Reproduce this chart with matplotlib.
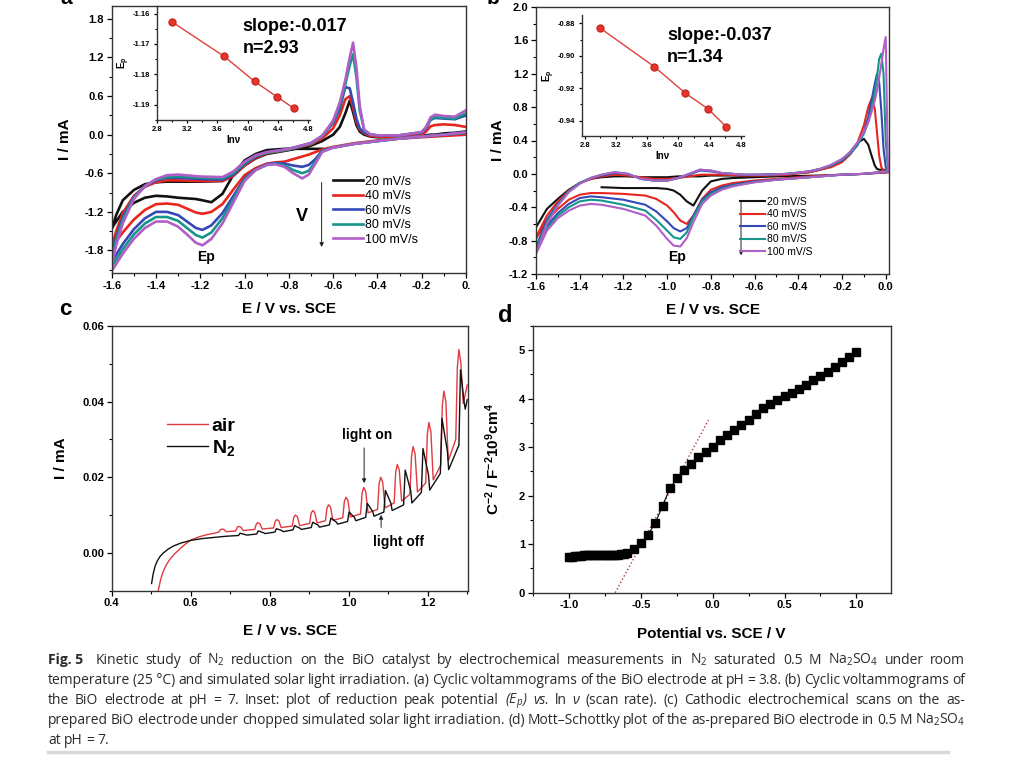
import matplotlib
matplotlib.use("Agg")
import numpy as np
import matplotlib.pyplot as plt
from matplotlib.ticker import MultipleLocator, FormatStrFormatter, FuncFormatter
from matplotlib.lines import Line2D

nan = np.nan

# ---------- (a) CV at pH 3.8 ----------
rates_a = ["20 mV/s", "40 mV/s", "60 mV/s", "80 mV/s", "100 mV/s"]
# cathodic sweep (0 -> -1.6 V)
a_dn_x = [0.0, -0.1, -0.2, -0.3, -0.4, -0.5, -0.6, -0.65, -0.68, -0.71,
          -0.74, -0.78, -0.82, -0.86, -0.9, -0.95, -1.0, -1.05, -1.1, -1.15,
          -1.19, -1.22, -1.26, -1.3, -1.35, -1.4, -1.45, -1.5, -1.55, -1.6]
a_dn_20 = [nan, nan, nan, nan, nan, nan, nan, -0.22, -0.22, -0.22,
           -0.22, -0.22, -0.22, -0.23, -0.24, -0.3, -0.4, -0.62, -0.92, -1.05,
           -1.02, -1.0, -0.99, -0.98, -0.96, -0.95, -0.98, -1.06, -1.2, -1.45]
a_dn_40 = [0.0, -0.02, -0.04, -0.06, -0.09, -0.13, -0.19, -0.23, -0.27, -0.31,
           -0.34, -0.38, -0.42, -0.43, -0.45, -0.52, -0.63, -0.85, -1.08, -1.2,
           -1.23, -1.21, -1.15, -1.09, -1.07, -1.08, -1.17, -1.32, -1.52, -1.75]
a_dn_60 = [0.03, 0.0, -0.03, -0.06, -0.1, -0.14, -0.2, -0.25, -0.38, -0.47,
           -0.5, -0.48, -0.45, -0.44, -0.46, -0.54, -0.68, -0.95, -1.22, -1.41,
           -1.48, -1.45, -1.35, -1.25, -1.2, -1.2, -1.3, -1.47, -1.7, -1.98]
a_dn_80 = [0.03, 0.0, -0.03, -0.06, -0.1, -0.14, -0.2, -0.26, -0.42, -0.56,
           -0.6, -0.55, -0.48, -0.45, -0.47, -0.55, -0.7, -1.0, -1.3, -1.52,
           -1.6, -1.56, -1.45, -1.34, -1.28, -1.28, -1.38, -1.55, -1.78, -2.05]
a_dn_100 = [0.04, 0.0, -0.03, -0.06, -0.1, -0.14, -0.2, -0.27, -0.45, -0.62,
            -0.68, -0.6, -0.5, -0.46, -0.47, -0.55, -0.72, -1.05, -1.38, -1.62,
            -1.72, -1.68, -1.55, -1.43, -1.35, -1.35, -1.45, -1.62, -1.85, -2.12]
# anodic sweep (-1.6 -> 0 V)
a_up_x = [-1.6, -1.58, -1.55, -1.5, -1.45, -1.4, -1.35, -1.3, -1.2, -1.1,
          -1.05, -1.0, -0.95, -0.9, -0.8, -0.7, -0.65, -0.6, -0.57, -0.545,
          -0.525, -0.51, -0.495, -0.48, -0.46, -0.43, -0.4, -0.3, -0.2, -0.18,
          -0.16, -0.14, -0.1, -0.05, 0.0]
a_up_20 = [-1.47, -1.25, -1.02, -0.86, -0.77, -0.74, -0.73, -0.73, -0.73, -0.72,
           -0.63, -0.48, -0.37, -0.3, -0.24, -0.17, -0.1, 0.0, 0.12, 0.33,
           0.53, 0.35, 0.15, 0.05, 0.0, -0.03, -0.04, -0.04, -0.02, -0.01,
           0.0, 0.0, 0.02, 0.03, 0.05]
a_up_40 = [-1.75, -1.5, -1.22, -0.95, -0.81, -0.74, -0.71, -0.71, -0.72, -0.72,
           -0.64, -0.48, -0.36, -0.29, -0.23, -0.15, -0.06, 0.1, 0.3, 0.55,
           0.6, 0.42, 0.2, 0.08, 0.02, -0.02, -0.03, -0.03, 0.0, 0.05,
           0.13, 0.15, 0.16, 0.15, 0.12]
a_up_60 = [-1.9, -1.6, -1.28, -0.97, -0.8, -0.71, -0.67, -0.67, -0.69, -0.7,
           -0.62, -0.46, -0.34, -0.28, -0.22, -0.13, -0.02, 0.18, 0.4, 0.74,
           0.72, 0.5, 0.25, 0.1, 0.03, 0.0, -0.01, -0.01, 0.03, 0.1,
           0.23, 0.26, 0.25, 0.24, 0.3]
a_up_80 = [-1.97, -1.65, -1.32, -0.98, -0.8, -0.7, -0.66, -0.65, -0.67, -0.68,
           -0.6, -0.44, -0.33, -0.28, -0.23, -0.14, -0.03, 0.2, 0.45, 0.78,
           1.08, 1.25, 0.9, 0.38, 0.07, 0.0, -0.01, -0.01, 0.04, 0.12,
           0.24, 0.27, 0.26, 0.25, 0.33]
a_up_100 = [-2.05, -1.72, -1.38, -1.0, -0.8, -0.69, -0.63, -0.62, -0.65, -0.66,
            -0.57, -0.42, -0.32, -0.27, -0.22, -0.13, -0.02, 0.22, 0.5, 0.85,
            1.2, 1.43, 1.05, 0.45, 0.08, 0.0, -0.01, -0.01, 0.04, 0.12,
            0.27, 0.31, 0.29, 0.28, 0.38]

# ---------- (b) CV at pH 7 ----------
rates_b = ["20 mV/S", "40 mV/S", "60 mV/S", "80 mV/S", "100 mV/S"]
b_dn_x = [0.01, -0.1, -0.2, -0.3, -0.4, -0.5, -0.6, -0.7, -0.75, -0.8,
          -0.84, -0.88, -0.91, -0.94, -0.97, -1.0, -1.05, -1.1, -1.2, -1.3,
          -1.35, -1.4, -1.45, -1.5, -1.55, -1.6]
b_dn_20 = [0.02, 0.0, -0.01, -0.02, -0.025, -0.03, -0.04, -0.05, -0.06, -0.09,
           -0.2, -0.38, -0.33, -0.25, -0.2, -0.18, -0.17, -0.17, -0.17, -0.16,
           nan, nan, nan, nan, nan, nan]
b_dn_40 = [0.02, 0.0, -0.01, -0.02, -0.04, -0.06, -0.08, -0.11, -0.14, -0.19,
           -0.3, -0.5, -0.6, -0.56, -0.46, -0.38, -0.3, -0.26, -0.24, -0.23,
           -0.23, -0.25, -0.31, -0.42, -0.56, -0.78]
b_dn_60 = [0.03, 0.0, -0.01, -0.03, -0.05, -0.07, -0.09, -0.13, -0.16, -0.22,
           -0.31, -0.5, -0.65, -0.69, -0.65, -0.57, -0.45, -0.37, -0.31, -0.28,
           -0.27, -0.29, -0.36, -0.47, -0.62, -0.88]
b_dn_80 = [0.03, 0.0, -0.01, -0.03, -0.05, -0.07, -0.1, -0.14, -0.18, -0.24,
           -0.33, -0.52, -0.7, -0.78, -0.76, -0.68, -0.55, -0.44, -0.37, -0.32,
           -0.31, -0.33, -0.4, -0.5, -0.65, -0.92]
b_dn_100 = [0.03, 0.0, -0.01, -0.03, -0.05, -0.07, -0.1, -0.15, -0.19, -0.26,
            -0.36, -0.58, -0.77, -0.87, -0.86, -0.78, -0.62, -0.5, -0.42, -0.37,
            -0.36, -0.38, -0.44, -0.53, -0.68, -0.96]
b_up_x = [-1.6, -1.55, -1.5, -1.45, -1.4, -1.35, -1.3, -1.24, -1.18, -1.12,
          -1.06, -1.0, -0.95, -0.9, -0.85, -0.8, -0.75, -0.65, -0.55, -0.45,
          -0.35, -0.3, -0.25, -0.2, -0.16, -0.13, -0.1, -0.08, -0.065, -0.05,
          -0.04, -0.03, -0.02, -0.01, 0.0, 0.01]
b_up_20 = [-0.64, -0.42, -0.3, -0.19, -0.11, -0.06, -0.04, -0.03, -0.03, -0.04,
           -0.04, -0.04, -0.03, -0.03, -0.03, -0.02, -0.02, -0.02, -0.01, 0.0,
           0.02, 0.05, 0.09, 0.16, 0.27, 0.37, 0.42, 0.35, 0.22, 0.1,
           0.06, 0.05, 0.05, 0.05, 0.04, 0.03]
b_up_40 = [-0.76, -0.5, -0.33, -0.2, -0.11, -0.06, -0.03, -0.01, -0.02, -0.04,
           -0.06, -0.06, -0.05, -0.03, -0.01, -0.01, -0.01, -0.02, -0.02, -0.01,
           0.02, 0.05, 0.08, 0.14, 0.24, 0.37, 0.58, 0.8, 0.9, 0.78,
           0.5, 0.22, 0.08, 0.04, 0.03, 0.03]
b_up_60 = [-0.88, -0.55, -0.36, -0.21, -0.11, -0.05, -0.02, 0.01, 0.0, -0.06,
           -0.08, -0.08, -0.05, -0.01, 0.04, 0.03, 0.01, -0.01, -0.01, 0.0,
           0.03, 0.06, 0.1, 0.16, 0.25, 0.34, 0.5, 0.68, 0.88, 1.08,
           1.2, 1.1, 0.75, 0.3, 0.08, 0.03]
b_up_80 = [-0.92, -0.58, -0.37, -0.21, -0.11, -0.05, -0.01, 0.02, 0.0, -0.06,
           -0.08, -0.08, -0.05, 0.0, 0.05, 0.04, 0.01, -0.01, -0.01, 0.0,
           0.03, 0.06, 0.1, 0.17, 0.25, 0.35, 0.48, 0.62, 0.78, 0.98,
           1.15, 1.38, 1.44, 1.2, 0.4, 0.05]
b_up_100 = [-0.96, -0.6, -0.38, -0.22, -0.12, -0.05, -0.01, 0.02, 0.0, -0.06,
            -0.08, -0.08, -0.05, 0.0, 0.05, 0.04, 0.01, -0.01, -0.01, 0.0,
            0.03, 0.06, 0.11, 0.18, 0.27, 0.37, 0.5, 0.62, 0.74, 0.88,
            1.0, 1.15, 1.32, 1.5, 1.64, 0.05]

# insets: Ep vs ln(v)
ln_v = [3.0, 3.69, 4.09, 4.38, 4.61]
ep_a = [-1.1627, -1.1741, -1.1823, -1.1873, -1.1912]
ep_b = [-0.8831, -0.9067, -0.9231, -0.9327, -0.9436]

# ---------- (c) chopped light scans ----------
c_air_x = [0.518, 0.524, 0.530, 0.538, 0.548, 0.558, 0.570, 0.585, 0.600, 0.620, 0.640, 0.660,
           0.671, 0.675, 0.679, 0.684, 0.690,
           0.714, 0.718, 0.722, 0.727, 0.733,
           0.762, 0.766, 0.770, 0.775, 0.781,
           0.810, 0.814, 0.818, 0.823, 0.829,
           0.857, 0.861, 0.865, 0.870, 0.876,
           0.901, 0.905, 0.909, 0.914, 0.920,
           0.941, 0.945, 0.949, 0.954, 0.960,
           0.985, 0.989, 0.993, 0.998, 1.004,
           1.030, 1.034, 1.038, 1.043, 1.049,
           1.073, 1.077, 1.081, 1.086, 1.092,
           1.115, 1.119, 1.123, 1.128, 1.134,
           1.155, 1.159, 1.163, 1.168, 1.174,
           1.195, 1.199, 1.203, 1.208, 1.214,
           1.233, 1.237, 1.241, 1.246, 1.252,
           1.271, 1.275, 1.279, 1.284, 1.290,
           1.300]
c_air_y = [-0.0099, -0.0070, -0.0050, -0.0032, -0.0016, -0.0004, 0.0008, 0.0022, 0.0034, 0.0042, 0.0048, 0.0052,
           0.0055, 0.0061, 0.0063, 0.0062, 0.0056,
           0.0058, 0.0068, 0.0070, 0.0068, 0.0059,
           0.0062, 0.0076, 0.0080, 0.0077, 0.0063,
           0.0066, 0.0084, 0.0088, 0.0085, 0.0067,
           0.0071, 0.0094, 0.0100, 0.0096, 0.0072,
           0.0078, 0.0105, 0.0112, 0.0107, 0.0079,
           0.0085, 0.0119, 0.0127, 0.0121, 0.0086,
           0.0093, 0.0136, 0.0147, 0.0139, 0.0095,
           0.0103, 0.0159, 0.0173, 0.0163, 0.0106,
           0.0115, 0.0183, 0.0200, 0.0187, 0.0119,
           0.0132, 0.0214, 0.0234, 0.0219, 0.0137,
           0.0155, 0.0256, 0.0281, 0.0262, 0.0161,
           0.0185, 0.0313, 0.0345, 0.0321, 0.0193,
           0.0232, 0.0389, 0.0428, 0.0399, 0.0243,
           0.0300, 0.0490, 0.0538, 0.0502, 0.0395,
           0.0444]
c_n2_x = [0.501, 0.505, 0.510, 0.515, 0.522, 0.531, 0.543, 0.556, 0.575, 0.600, 0.630, 0.660, 0.690,
          0.721, 0.725, 0.739, 0.742,
          0.767, 0.771, 0.785, 0.788,
          0.813, 0.817, 0.831, 0.834,
          0.859, 0.863, 0.877, 0.880,
          0.905, 0.909, 0.923, 0.926,
          0.951, 0.955, 0.969, 0.972,
          0.997, 1.001, 1.015, 1.018,
          1.043, 1.047, 1.061, 1.064,
          1.089, 1.093, 1.107, 1.110,
          1.139, 1.143, 1.157, 1.160,
          1.184, 1.188, 1.202, 1.205,
          1.232, 1.236, 1.250, 1.253,
          1.279, 1.283, 1.292, 1.295,
          1.300]
c_n2_y = [-0.0081, -0.0055, -0.0035, -0.0022, -0.0010, 0.0, 0.0010, 0.0018, 0.0026, 0.0033, 0.0038, 0.0041, 0.0044,
          0.0046, 0.0052, 0.0048, 0.0047,
          0.0050, 0.0058, 0.0053, 0.0051,
          0.0055, 0.0064, 0.0059, 0.0056,
          0.0061, 0.0072, 0.0065, 0.0062,
          0.0067, 0.0081, 0.0073, 0.0068,
          0.0074, 0.0092, 0.0081, 0.0076,
          0.0083, 0.0108, 0.0093, 0.0085,
          0.0094, 0.0131, 0.0109, 0.0097,
          0.0108, 0.0165, 0.0131, 0.0112,
          0.0127, 0.0219, 0.0164, 0.0132,
          0.0160, 0.0276, 0.0206, 0.0166,
          0.0210, 0.0356, 0.0268, 0.0220,
          0.0285, 0.0484, 0.0400, 0.0380,
          0.0405]

# ---------- (d) Mott-Schottky ----------
d_x = [-1.0, -0.98, -0.96, -0.94, -0.92, -0.9, -0.88, -0.86, -0.84, -0.82,
       -0.8, -0.78, -0.76, -0.74, -0.72, -0.7, -0.68, -0.66, -0.64, -0.62,
       -0.6, -0.55, -0.5, -0.45, -0.4, -0.35, -0.3, -0.25, -0.2, -0.15,
       -0.1, -0.05, 0.0, 0.05, 0.1, 0.15, 0.2, 0.25, 0.3, 0.35,
       0.4, 0.45, 0.5, 0.55, 0.6, 0.65, 0.7, 0.75, 0.8, 0.85,
       0.9, 0.95, 1.0]
d_y = [0.73, 0.74, 0.75, 0.76, 0.765, 0.77, 0.775, 0.78, 0.78, 0.78,
       0.78, 0.78, 0.78, 0.775, 0.77, 0.77, 0.775, 0.78, 0.79, 0.8,
       0.82, 0.91, 1.02, 1.2, 1.44, 1.79, 2.15, 2.36, 2.53, 2.66,
       2.8, 2.9, 3.01, 3.15, 3.25, 3.35, 3.45, 3.57, 3.68, 3.8,
       3.89, 3.97, 4.05, 4.12, 4.21, 4.29, 4.38, 4.46, 4.55, 4.66,
       4.76, 4.86, 4.97]
d_fit_x = [-0.68, -0.03]
d_fit_y = [0.0, 3.56]

colors = ["#111111", "#e8261e", "#3548b5", "#16958a", "#b15fc6"]

plt.rcParams["font.family"] = ["Liberation Sans", "DejaVu Sans"]
plt.rcParams["font.weight"] = "bold"
plt.rcParams["axes.labelweight"] = "bold"
plt.rcParams["axes.unicode_minus"] = False
plt.rcParams["mathtext.default"] = "regular"

W, H = 1024, 768
fig = plt.figure(figsize=(W / 100, H / 100), dpi=100)


def box(l, t, r, b):
    return [l / W, 1 - b / H, (r - l) / W, (b - t) / H]


def style(ax, xmaj, xmin, ymaj, ymin, xfmt, yfmt, size=8, inset=False):
    ax.xaxis.set_major_locator(MultipleLocator(xmaj))
    ax.xaxis.set_minor_locator(MultipleLocator(xmin))
    ax.yaxis.set_major_locator(MultipleLocator(ymaj))
    ax.yaxis.set_minor_locator(MultipleLocator(ymin))
    ax.xaxis.set_major_formatter(xfmt if callable(xfmt) else FormatStrFormatter(xfmt))
    ax.yaxis.set_major_formatter(FormatStrFormatter(yfmt))
    ax.tick_params(which="major", direction="out", length=3.5 if not inset else 2.5,
                   width=0.9, labelsize=size, pad=2)
    ax.tick_params(which="minor", direction="out", length=2 if not inset else 1.5, width=0.8)
    for s in ax.spines.values():
        s.set_linewidth(1.0)
        s.set_color("#333333")


# ---------------- panel a ----------------
ax_a = fig.add_axes(box(111.7, 6, 466, 273))
a_dn = [a_dn_20, a_dn_40, a_dn_60, a_dn_80, a_dn_100]
a_up = [a_up_20, a_up_40, a_up_60, a_up_80, a_up_100]
for yd, yu, c, lab in zip(a_dn, a_up, colors, rates_a):
    ax_a.plot(a_dn_x + a_up_x, yd + yu, color=c, lw=1.9, label=lab)
ax_a.set_xlim(-1.6, 0.0)
ax_a.set_ylim(-2.15, 2.0)
style(ax_a, 0.2, 0.1, 0.6, 0.3,
      FuncFormatter(lambda v, p: "0." if abs(v) < 1e-9 else "%.1f" % v), "%.1f")
ax_a.set_xlabel("E / V vs. SCE", fontsize=11, labelpad=8)
ax_a.set_ylabel("I / mA", fontsize=11, labelpad=9)
ax_a.legend(loc="upper left", bbox_to_anchor=(0.625, 0.365), frameon=False,
            handlelength=2.4, handletextpad=0.15, labelspacing=0.2,
            borderpad=0, borderaxespad=0, prop={"size": 9, "weight": "normal"})
ax_a.annotate("", xy=(-0.652, -1.79), xytext=(-0.652, -0.7),
              arrowprops=dict(arrowstyle="-|>", lw=0.7, color="#222222", mutation_scale=6))
ax_a.text(-0.742, -1.27, "V", fontsize=13, ha="center", va="center")
ax_a.text(-1.175, -1.9, "Ep", fontsize=10, ha="center", va="center")
ax_a.text(-1.008, 1.676, "slope:-0.017", fontsize=13, ha="left", va="center")
ax_a.text(-1.008, 1.334, "n=2.93", fontsize=13, ha="left", va="center")

ins_a = fig.add_axes(box(156.7, 6, 310, 120))
ins_a.patch.set_alpha(0)
ins_a.plot(ln_v, ep_a, "-o", color="#e0403a", lw=1.0, ms=5,
           mfc="#e8352b", mec="#c42a22")
ins_a.set_xlim(2.8, 4.82)
ins_a.set_ylim(-1.195, -1.1575)
style(ins_a, 0.4, 0.2, 0.01, 0.005, "%.1f", "%.2f", size=5.5, inset=True)
ins_a.spines["top"].set_visible(False)
ins_a.spines["right"].set_visible(False)
ins_a.set_xlabel("lnν", fontsize=7, labelpad=1)
ins_a.set_ylabel("E$_p$", fontsize=7, labelpad=1)

# ---------------- panel b ----------------
ax_b = fig.add_axes(box(536, 7, 889, 274))
b_dn = [b_dn_20, b_dn_40, b_dn_60, b_dn_80, b_dn_100]
b_up = [b_up_20, b_up_40, b_up_60, b_up_80, b_up_100]
for yd, yu, c, lab in zip(b_dn, b_up, colors, rates_b):
    ax_b.plot(b_dn_x + b_up_x, yd + yu, color=c, lw=1.5, label=lab)
ax_b.set_xlim(-1.6, 0.015)
ax_b.set_ylim(-1.2, 2.0)
style(ax_b, 0.2, 0.1, 0.4, 0.2, "%.1f", "%.1f")
ax_b.set_xlabel("E / V vs. SCE", fontsize=11, labelpad=8)
ax_b.set_ylabel("I / mA", fontsize=11, labelpad=3)
ax_b.legend(loc="upper left", bbox_to_anchor=(0.578, 0.29), frameon=False,
            handlelength=2.4, handletextpad=0.15, labelspacing=0.25,
            borderpad=0, borderaxespad=0, prop={"size": 7.5, "weight": "normal"})
ax_b.annotate("", xy=(-0.662, -1.01), xytext=(-0.662, -0.29),
              arrowprops=dict(arrowstyle="-|>", lw=0.7, color="#222222", mutation_scale=6))
ax_b.text(-0.955, -1.0, "Ep", fontsize=10, ha="center", va="center")
ax_b.text(-1.0, 1.664, "slope:-0.037", fontsize=13, ha="left", va="center")
ax_b.text(-1.0, 1.389, "n=1.34", fontsize=13, ha="left", va="center")

ins_b = fig.add_axes(box(581.7, 15, 744, 136))
ins_b.patch.set_alpha(0)
ins_b.plot(ln_v, ep_b, "-o", color="#e0403a", lw=1.0, ms=5,
           mfc="#e8352b", mec="#c42a22")
ins_b.set_xlim(2.76, 4.84)
ins_b.set_ylim(-0.9494, -0.8749)
style(ins_b, 0.4, 0.2, 0.02, 0.01, "%.1f", "%.2f", size=5.5, inset=True)
ins_b.spines["top"].set_visible(False)
ins_b.spines["right"].set_visible(False)
ins_b.set_xlabel("lnν", fontsize=7, labelpad=1)
ins_b.set_ylabel("E$_p$", fontsize=7, labelpad=1)

# ---------------- panel c ----------------
ax_c = fig.add_axes(box(111.7, 326, 468, 590.7))
ax_c.plot(c_air_x, c_air_y, color="#e23a3f", lw=1.0, label="air")
ax_c.plot(c_n2_x, c_n2_y, color="#111111", lw=1.0, label="N$_2$")
ax_c.set_xlim(0.4, 1.302)
ax_c.set_ylim(-0.01, 0.06)
style(ax_c, 0.2, 0.1, 0.02, 0.01, "%.1f", "%.2f")
ax_c.set_xlabel("E / V vs. SCE", fontsize=11, labelpad=11)
ax_c.set_ylabel("I / mA", fontsize=11, labelpad=10)
ax_c.legend(loc="upper left", bbox_to_anchor=(0.155, 0.655), frameon=False,
            handlelength=2.1, handletextpad=0.2, labelspacing=0.15,
            borderpad=0, borderaxespad=0, prop={"size": 14, "weight": "bold"})
ax_c.text(1.046, 0.0312, "light on", fontsize=10, ha="center", va="center")
ax_c.annotate("", xy=(1.039, 0.0177), xytext=(1.039, 0.0285),
              arrowprops=dict(arrowstyle="-|>", lw=0.7, color="#222222", mutation_scale=6))
ax_c.text(1.125, 0.0028, "light off", fontsize=10, ha="center", va="center")
ax_c.annotate("", xy=(1.082, 0.0108), xytext=(1.082, 0.006),
              arrowprops=dict(arrowstyle="-|>", lw=0.7, color="#222222", mutation_scale=6))

# ---------------- panel d ----------------
ax_d = fig.add_axes(box(532.7, 326, 890.7, 592.7))
ax_d.plot(d_fit_x, d_fit_y, ":", color="#b03a3a", lw=1.0)
ax_d.plot(d_x, d_y, "-s", color="black", lw=0.8, ms=5.3)
ax_d.set_xlim(-1.255, 1.24)
ax_d.set_ylim(0, 5.5)
style(ax_d, 0.5, 0.25, 1, 0.5, "%.1f", "%d")
ax_d.set_xlabel("Potential vs. SCE / V", fontsize=11, labelpad=12)
ax_d.set_ylabel("C$^{-2}$ / F$^{-2}$10$^{9}$cm$^{4}$", fontsize=11, labelpad=12)

# panel letters (a and b are cropped at the top edge in the source)
fig.text(66 / W, 1 + 1 / H, "a", fontsize=15, ha="center", va="center")
fig.text(493 / W, 1 + 1 / H, "b", fontsize=15, ha="center", va="center")
fig.text(65 / W, 1 - 310 / H, "c", fontsize=16, ha="center", va="center")
fig.text(505 / W, 1 - 315 / H, "d", fontsize=17, ha="center", va="center")

# ---------------- caption ----------------
cap_lines = [
    "_b_Fig.~5 Kinetic study of N$_2$ reduction on the BiO catalyst by electrochemical measurements in N$_2$ saturated 0.5 M Na$_2$SO$_4$ under room",
    "temperature (25\u00a0°C) and simulated solar light irradiation. (a) Cyclic voltammograms of the BiO electrode at pH = 3.8. (b) Cyclic voltammograms of",
    "the BiO electrode at pH = 7. Inset: plot of reduction peak potential _i_($E_p$) _i_vs. ln _i_ν (scan rate). (c) Cathodic electrochemical scans on the as-",
    "prepared BiO electrode under chopped simulated solar light irradiation. (d) Mott–Schottky plot of the as-prepared BiO electrode in 0.5 M Na$_2$SO$_4$",
    "at pH = 7.",
]
cap_base = [664, 684, 704, 724, 744]
cap_x0, cap_x1 = 48, 965
cap_family = ["Liberation Sans Narrow", "Open Sans", "DejaVu Sans"]
renderer = fig.canvas.get_renderer()


def make_line(line, yb, fs):
    objs = []
    for tok in line.split(" "):
        kw = dict(fontsize=fs, family=cap_family, color="#2b2b2b",
                  ha="left", va="baseline", weight="normal", style="normal")
        if tok.startswith("_i_"):
            tok = tok[3:]
            kw["style"] = "italic"
        if tok.startswith("_b_"):
            tok = tok[3:].replace("~", " ")
            kw["weight"] = "bold"
        objs.append(fig.text(0, 1 - yb / H, tok, **kw))
    widths = [o.get_window_extent(renderer=renderer).width for o in objs]
    return objs, widths


for fs in [10.5, 10, 9.5, 9, 8.5]:
    built = [make_line(l, y, fs) for l, y in zip(cap_lines, cap_base)]
    ok = True
    for objs, widths in built[:-1]:
        if (cap_x1 - cap_x0 - sum(widths) - 6) / (len(objs) - 1) < 2.0:
            ok = False
    if ok or fs == 8.5:
        break
    for objs, _ in built:
        for o in objs:
            o.remove()

for k, (objs, widths) in enumerate(built):
    extra = 6 if k == 0 else 0
    if k < len(built) - 1:
        gap = (cap_x1 - cap_x0 - sum(widths) - extra) / (len(objs) - 1)
    else:
        gap = 0.25 * fs * 100 / 72
    x = cap_x0
    for i, (o, w) in enumerate(zip(objs, widths)):
        o.set_x(x / W)
        x += w + gap + (extra if i == 0 else 0)

fig.add_artist(Line2D([48 / W, 948 / W], [1 - 752 / H, 1 - 752 / H],
                      color="#d9d9d9", lw=2.5))

fig.savefig("out.png", dpi=100)
